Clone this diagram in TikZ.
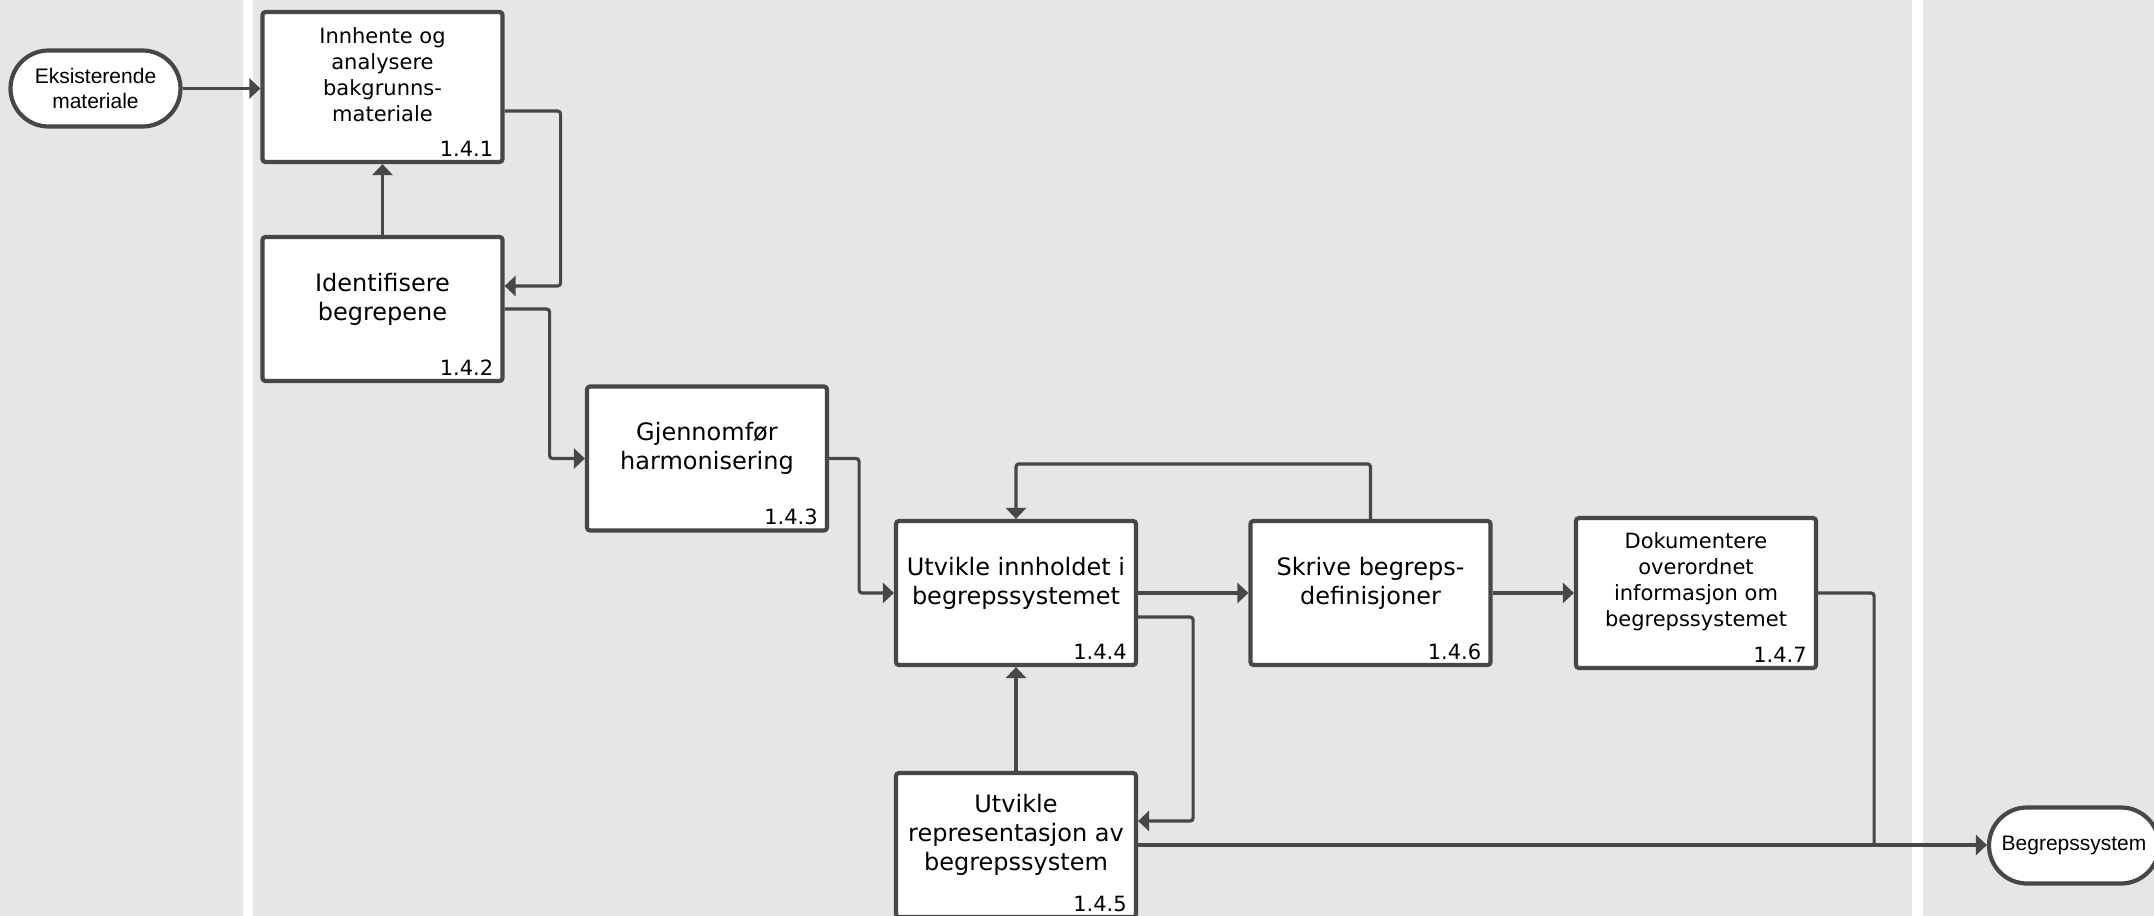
\documentclass[tikz,border=0pt]{standalone}
\usepackage{fontspec}
\setmainfont{DejaVu Sans}
\newfontfamily\arialfont{Liberation Sans}
\usetikzlibrary{arrows.meta,shapes.misc}
\definecolor{linegray}{HTML}{474747}
\definecolor{lanegray}{HTML}{E6E6E6}

\begin{document}
\begin{tikzpicture}[x=0.5pt, y=-0.5pt,
    task/.style={draw=linegray, fill=white, line width=2.1pt, rounded corners=1.5pt,
      minimum width=120pt, minimum height=72pt, inner sep=0pt},
    tasktext/.style={align=center, font=\fontsize{12}{14.5}\selectfont, inner sep=0pt},
    smalltext/.style={align=center, font=\fontsize{10.5}{13}\selectfont, inner sep=0pt},
    tasknum/.style={anchor=south east, font=\fontsize{10.5}{12}\selectfont, inner sep=0pt},
    terminal/.style={draw=linegray, fill=white, line width=2.1pt, rounded rectangle,
      minimum width=85pt, minimum height=38pt, inner sep=0pt, align=center,
      font=\arialfont\fontsize{10.5}{12.7}\selectfont},
    flow/.style={draw=linegray, line width=1.6pt, rounded corners=1.5pt,
      -{Triangle[length=5.5pt,width=10pt]}},
    line/.style={draw=linegray, line width=1.6pt, rounded corners=1.5pt}]

  \useasboundingbox (0,0) rectangle (2154,916);
  \fill[lanegray] (0,0) rectangle (2154,916);
  \fill[white] (243,0) rectangle (253,916);
  \fill[white] (1912,0) rectangle (1923,916);

  \node[terminal] (ek) at (95.5,88.5) {Eksisterende\\materiale};
  \node[terminal] (out) at (2074,845.5) {Begrepssystem};

  \node[task, minimum height=75pt] (b1) at (382.5,87) {};
  \node[task] (b2) at (382.5,309) {};
  \node[task] (b3) at (707,458.5) {};
  \node[task] (b4) at (1016,593) {};
  \node[task] (b5) at (1016,845) {};
  \node[task] (b6) at (1370.5,593) {};
  \node[task, minimum height=75pt] (b7) at (1696,593) {};

  \node[smalltext] (t1) at ([yshift=6pt]b1.center) {Innhente og\\analysere\\bakgrunns-\\materiale};
  \node[tasktext] (t2) at ([yshift=5pt]b2.center) {Identifisere\\begrepene};
  \node[tasktext] (t3) at ([yshift=5pt]b3.center) {Gjennomfør\\harmonisering};
  \node[tasktext] (t4) at ([yshift=5pt]b4.center) {Utvikle innholdet i\\begrepssystemet};
  \node[tasktext] (t5) at ([yshift=5pt]b5.center) {Utvikle\\representasjon av\\begrepssystem};
  \node[tasktext] (t6) at ([yshift=5pt]b6.center) {Skrive begreps-\\definisjoner};
  \node[smalltext] (t7) at ([yshift=5.8pt]b7.center) {Dokumentere\\overordnet\\informasjon om\\begrepssystemet};

  \node[tasknum] (n1) at ([xshift=-5.5pt,yshift=3.5pt]b1.south east) {1.4.1};
  \node[tasknum] (n2) at ([xshift=-5.5pt,yshift=3.5pt]b2.south east) {1.4.2};
  \node[tasknum] (n3) at ([xshift=-5.5pt,yshift=3.5pt]b3.south east) {1.4.3};
  \node[tasknum] (n4) at ([xshift=-5.5pt,yshift=3.5pt]b4.south east) {1.4.4};
  \node[tasknum] (n5) at ([xshift=-5.5pt,yshift=3.5pt]b5.south east) {1.4.5};
  \node[tasknum] (n6) at ([xshift=-5.5pt,yshift=3.5pt]b6.south east) {1.4.6};
  \node[tasknum] (n7) at ([xshift=-5.5pt,yshift=3.5pt]b7.south east) {1.4.7};

  \draw[flow] (ek.east) -- (ek.east -| b1.west);
  \draw[flow] (b2) -- (b1);
  \draw[flow] ([yshift=-12pt]b1.east) -- ++(56,0) |- ([yshift=11.5pt]b2.east);
  \draw[flow] (b2.east) -- ++(45,0) |- (b3.west);
  \draw[flow] (b3.east) -- ++(30,0) |- (b4.west);
  \draw[flow] (b4) -- (b6);
  \draw[flow] (b6) -- (b7);
  \draw[flow] (b6.north) -- ++(0,-55) -| (b4.north);
  \draw[flow] ([yshift=-12pt]b4.east) -- ++(55,0) |- ([yshift=12pt]b5.east);
  \draw[flow] (b5) -- (b4);
  \draw[flow] (b5.east) -- (b5.east -| out.west);

  \coordinate (jn) at ([xshift=28pt]b7.east |- b5.east);
  \draw[line] (b7.east) -| (jn);
\end{tikzpicture}
\end{document}
